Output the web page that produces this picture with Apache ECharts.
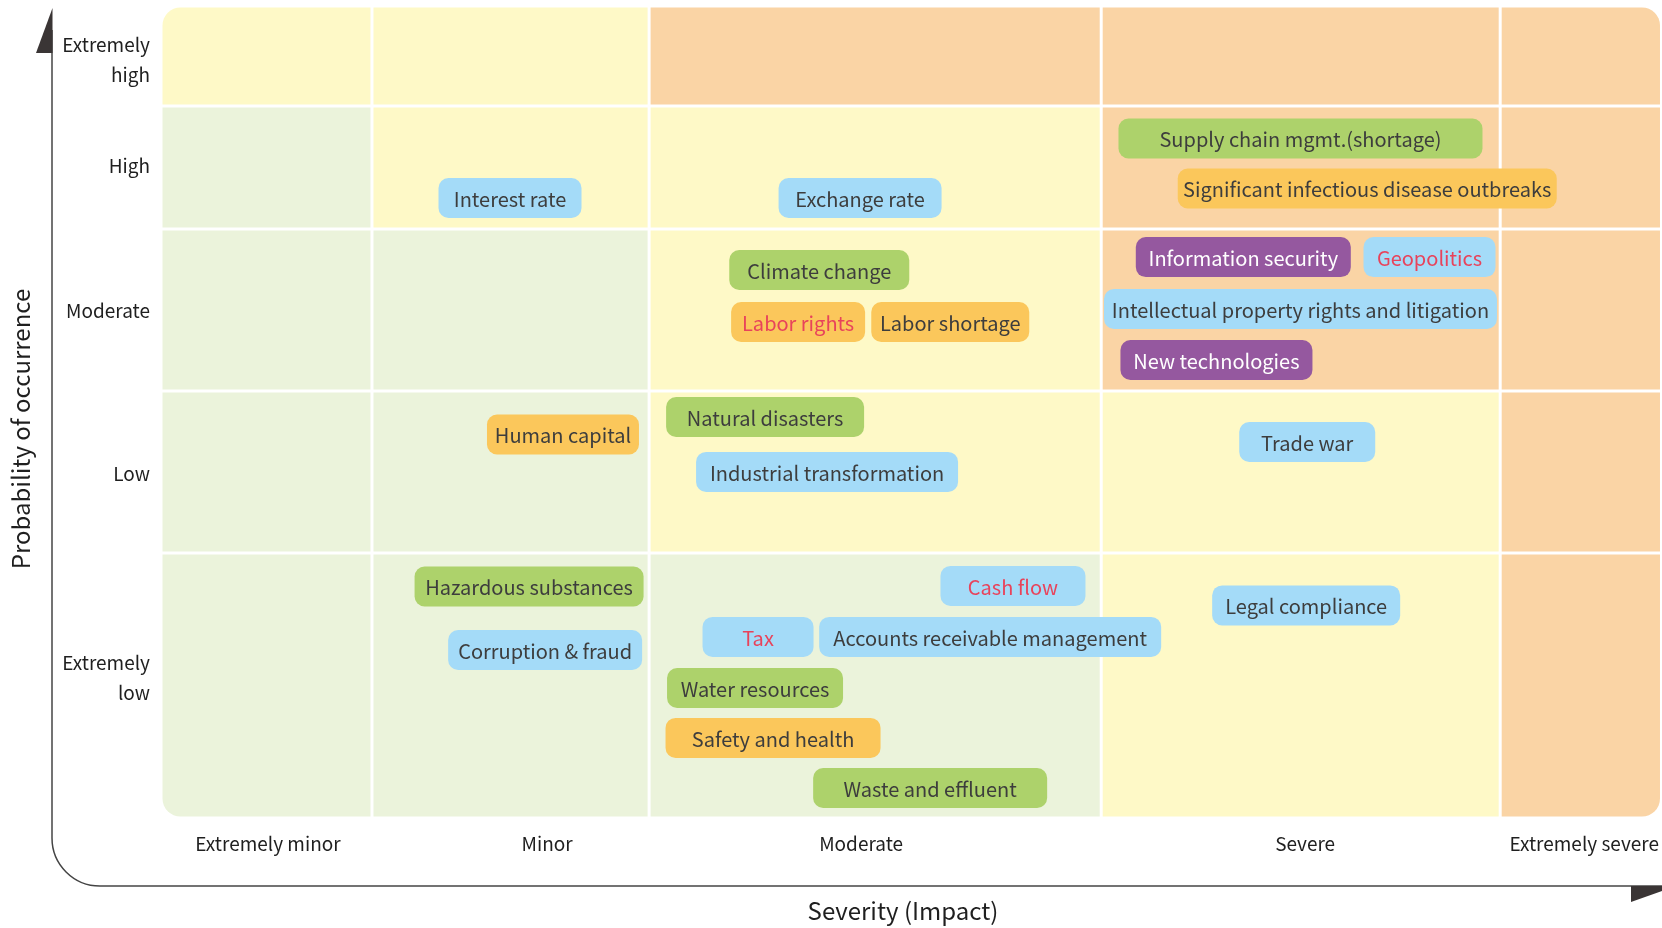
<!DOCTYPE html>
<html>
<head>
<meta charset="utf-8">
<title>Risk matrix</title>
<script src="https://cdn.jsdelivr.net/npm/echarts@6/dist/echarts.min.js"></script>
<style>
html, body { margin: 0; padding: 0; background: #fff; }
#chart { width: 1662px; height: 928px; }
</style>
</head>
<body>
<div id="chart"></div>
<script>
// severity (x) and probability (y) on a 0-100 scale, columns/rows are not equal
var severityNames = ['Extremely minor', 'Minor', 'Moderate', 'Severe', 'Extremely severe'];
var severityTicks = [7.13, 25.73, 46.66, 76.25, 94.85];
var severityEdges = [0, 14.06, 32.53, 62.66, 89.25, 100];

var probabilityNames = ['Extremely\nlow', 'Low', 'Moderate', 'High', 'Extremely\nhigh'];
var probabilityTicks = [17.24, 42.36, 62.5, 80.3, 93.35];
var probabilityEdges = [0, 32.64, 52.59, 72.54, 87.68, 100];

// zone of each cell, rows from the bottom up : 0 low, 1 medium, 2 high
var zoneRows = [
  [0, 0, 0, 1, 2],
  [0, 0, 1, 1, 2],
  [0, 0, 1, 2, 2],
  [0, 1, 1, 2, 2],
  [1, 1, 2, 2, 2]
];

// risks
var riskNames = [
  'Supply chain mgmt.(shortage)', 'Significant infectious disease outbreaks',
  'Information security', 'Geopolitics', 'Intellectual property rights and litigation',
  'New technologies', 'Interest rate', 'Exchange rate', 'Climate change',
  'Labor rights', 'Labor shortage', 'Natural disasters', 'Industrial transformation',
  'Cash flow', 'Tax', 'Accounts receivable management', 'Water resources',
  'Safety and health', 'Waste and effluent', 'Human capital', 'Hazardous substances',
  'Corruption & fraud', 'Trade war', 'Legal compliance'
];
var riskSeverity = [75.94, 80.39, 72.13, 84.54, 75.94, 70.34, 23.26, 46.59, 43.87, 42.46, 52.6,
  40.26, 44.39, 56.78, 39.79, 55.26, 39.59, 40.79, 51.26, 26.79, 24.53, 25.6, 76.39, 76.32];
var riskProbability = [83.68, 77.53, 69.08, 69.08, 62.69, 56.41, 76.36, 76.36, 67.49, 61.09, 61.09,
  49.39, 42.62, 28.58, 22.3, 22.3, 16.01, 9.86, 3.7, 47.23, 28.51, 20.69, 46.31, 26.18];
// category: 0 economic (blue), 1 environmental (green), 2 social (orange), 3 technology (purple)
var riskType = [1, 2, 3, 0, 0, 3, 0, 0, 1, 2, 2, 1, 0, 0, 0, 0, 1, 2, 1, 2, 1, 0, 0, 0];
// 1 = emphasised risk (red text)
var riskFlag = [0, 0, 0, 1, 0, 0, 0, 0, 0, 1, 0, 0, 0, 1, 1, 0, 0, 0, 0, 0, 0, 0, 0, 0];

// styling
var zoneColors = ['#EBF3DB', '#FEF9C7', '#FAD4A5'];
var typeColors = ['#A4DBF8', '#ADD26B', '#FBC75B', '#95589F'];
var tagBoxWidth = [364, 379, 215, 132, 393, 192, 143, 163, 180, 134, 158, 198, 262, 145, 111,
  342, 176, 215, 234, 152, 229, 194, 136, 188];
var tagFont = '20px "Noto Sans CJK SC", "Noto Sans", sans-serif';

var cellData = [];
zoneRows.forEach(function (row, r) {
  row.forEach(function (z, c) { cellData.push([c, r, z]); });
});
var tagData = riskNames.map(function (n, i) {
  return [riskSeverity[i], riskProbability[i], i];
});

function renderCell(params, api) {
  var c = api.value(0), r = api.value(1);
  var p0 = api.coord([severityEdges[c], probabilityEdges[r + 1]]);
  var p1 = api.coord([severityEdges[c + 1], probabilityEdges[r]]);
  var R = 18;
  var radius = [
    (c == 0 && r == 4) ? R : 0,
    (c == 4 && r == 4) ? R : 0,
    (c == 4 && r == 0) ? R : 0,
    (c == 0 && r == 0) ? R : 0
  ];
  return {
    type: 'rect',
    shape: { x: p0[0] + 1.5, y: p0[1] + 1.5, width: p1[0] - p0[0] - 3, height: p1[1] - p0[1] - 3, r: radius },
    style: { fill: zoneColors[api.value(2)] }
  };
}

function renderTag(params, api) {
  var i = api.value(2);
  var p = api.coord([api.value(0), api.value(1)]);
  var w = tagBoxWidth[i], h = 40;
  var txt = riskFlag[i] ? '#E8435B' : (riskType[i] == 3 ? '#ffffff' : '#3D3D3D');
  return {
    type: 'group',
    children: [{
      type: 'rect',
      shape: { x: p[0] - w / 2, y: p[1] - h / 2, width: w, height: h, r: 10 },
      style: { fill: typeColors[riskType[i]] }
    }, {
      type: 'text',
      x: p[0], y: p[1] + 1,
      style: { text: riskNames[i], fill: txt, font: tagFont, align: 'center', verticalAlign: 'middle' }
    }]
  };
}

var myChart = echarts.init(document.getElementById('chart'));
var option = {
  animation: false,
  grid: { left: 161, right: -6, top: 6, bottom: 110 },
  xAxis: {
    type: 'value', min: 0, max: 100,
    axisLine: { show: false }, axisTick: { show: false }, splitLine: { show: false },
    axisLabel: {
      customValues: severityTicks,
      margin: 16,
      color: '#1f1f1f',
      fontSize: 19,
      fontFamily: 'Noto Sans CJK SC',
      formatter: function (v) { return severityNames[severityTicks.indexOf(v)]; }
    }
  },
  yAxis: {
    type: 'value', min: 0, max: 100,
    axisLine: { show: false }, axisTick: { show: false }, splitLine: { show: false },
    axisLabel: {
      customValues: probabilityTicks,
      margin: 11,
      color: '#1f1f1f',
      fontSize: 19,
      lineHeight: 30,
      align: 'right',
      fontFamily: 'Noto Sans CJK SC',
      formatter: function (v) { return probabilityNames[probabilityTicks.indexOf(v)]; }
    }
  },
  graphic: [
    { type: 'line', shape: { x1: 52, y1: 30, x2: 52, y2: 838 }, style: { stroke: '#444', lineWidth: 1.5 } },
    {
      type: 'arc',
      shape: { cx: 100, cy: 838, r: 48, startAngle: Math.PI / 2, endAngle: Math.PI, clockwise: true },
      style: { fill: 'none', stroke: '#444', lineWidth: 1.5 }
    },
    { type: 'line', shape: { x1: 100, y1: 886, x2: 1662, y2: 886 }, style: { stroke: '#444', lineWidth: 1.5 } },
    { type: 'polygon', shape: { points: [[52.5, 8], [52.5, 53], [36, 53]] }, style: { fill: '#3A3535' } },
    { type: 'polygon', shape: { points: [[1631, 886], [1676, 886], [1631, 902]] }, style: { fill: '#3A3535' } },
    {
      type: 'text', x: 903, y: 911,
      style: { text: 'Severity (Impact)', font: '24px "Noto Sans CJK SC"', fill: '#1f1f1f', align: 'center', verticalAlign: 'middle' }
    },
    {
      type: 'text', x: 21, y: 429, rotation: Math.PI / 2,
      style: { text: 'Probability of occurrence', font: '24px "Noto Sans CJK SC"', fill: '#1f1f1f', align: 'center', verticalAlign: 'middle' }
    }
  ],
  series: [
    { type: 'custom', name: 'zones', renderItem: renderCell, data: cellData, silent: true },
    { type: 'custom', name: 'risks', renderItem: renderTag, data: tagData, clip: false }
  ]
};
myChart.setOption(option);
window.onresize = myChart.resize;
</script>
</body>
</html>
